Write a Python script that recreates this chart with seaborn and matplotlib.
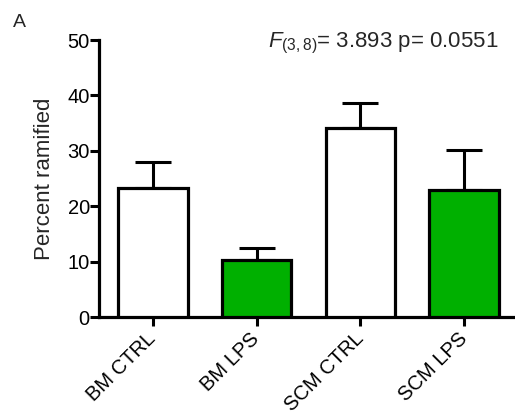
import matplotlib
matplotlib.use("Agg")
import matplotlib.pyplot as plt
import seaborn as sns
import pandas as pd

groups = ["BM CTRL", "BM LPS", "SCM CTRL", "SCM LPS"]
means = [23.3, 10.3, 34.2, 23.0]
sems = [4.6, 2.1, 4.4, 7.2]
fills = ["#FFFFFF", "#00B000", "#FFFFFF", "#00B000"]

sns.set_theme(style="ticks")
plt.rcParams["font.family"] = ["Liberation Sans", "DejaVu Sans"]
plt.rcParams["mathtext.fontset"] = "custom"
plt.rcParams["mathtext.rm"] = "Liberation Sans"
plt.rcParams["mathtext.it"] = "Liberation Sans:italic"

df = pd.DataFrame({"group": groups, "value": means})

fig = plt.figure(figsize=(5.15, 4.19), dpi=100)
ax = fig.add_axes([0.192, 0.2434, 0.806, 0.6611])

sns.barplot(data=df, x="group", y="value", hue="group", palette=fills,
            order=groups, legend=False, width=0.67, edgecolor="black",
            linewidth=2.3, saturation=1, errorbar=None, ax=ax, zorder=3)

# upper-only SEM whiskers
ax.errorbar(range(len(groups)), means, yerr=[[0] * len(sems), sems],
            fmt="none", ecolor="black", elinewidth=2.2, capsize=13,
            capthick=2.2, zorder=2)

ax.set_xlim(-0.52, 3.48)
ax.set_ylim(0, 50)
ax.set_yticks([0, 10, 20, 30, 40, 50])
ax.set_xlabel("")
ax.set_ylabel("Percent ramified", fontsize=16, labelpad=9)

for side in ("top", "right"):
    ax.spines[side].set_visible(False)
for side in ("left", "bottom"):
    ax.spines[side].set_linewidth(2.3)
    ax.spines[side].set_color("black")

ax.tick_params(axis="both", direction="out", length=6.5, width=2.2,
               colors="black", labelsize=14.5)
ax.tick_params(axis="y", pad=0)
ax.tick_params(axis="x", pad=7)
plt.setp(ax.get_xticklabels(), rotation=45, ha="right", va="center",
         rotation_mode="anchor")

fig.text(0.52, 0.886, r"$\mathit{F}_{\mathit{(3,8)}}$= 3.893 p= 0.0551",
         fontsize=16, ha="left", va="baseline")
fig.text(0.025, 0.9356, "A", fontsize=14, ha="left", va="baseline")

fig.savefig("out.png", dpi=100, facecolor="white")
